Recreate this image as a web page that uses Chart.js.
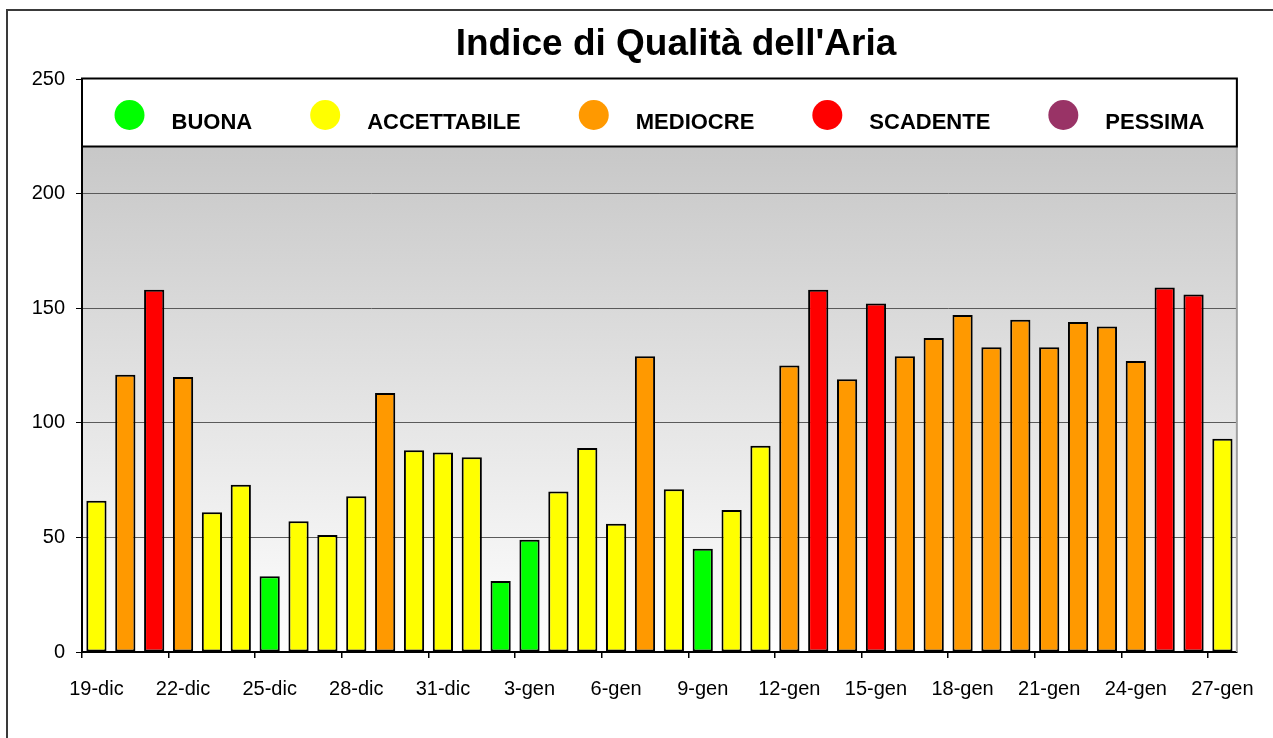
<!DOCTYPE html>
<html>
<head>
<meta charset="utf-8">
<script src="https://cdn.jsdelivr.net/npm/chart.js@4/dist/chart.umd.min.js"></script>
<style>
html, body { margin: 0; padding: 0; background: #fff; }
#wrap { width: 1273px; height: 738px; }
</style>
</head>
<body>
<div id="wrap"><canvas id="chart" width="1273" height="738"></canvas></div>
<script>
// indice di qualita' dell'aria, 19-dic .. 27-gen

const titleText = "Indice di Qualità dell'Aria"

const days = [
  "19-dic","20-dic","21-dic","22-dic","23-dic","24-dic","25-dic","26-dic","27-dic","28-dic",
  "29-dic","30-dic","31-dic","1-gen","2-gen","3-gen","4-gen","5-gen","6-gen","7-gen",
  "8-gen","9-gen","10-gen","11-gen","12-gen","13-gen","14-gen","15-gen","16-gen","17-gen",
  "18-gen","19-gen","20-gen","21-gen","22-gen","23-gen","24-gen","25-gen","26-gen","27-gen"
]

const iqa = [
  66,121,158,120,61,73,33,57,51,68,
  113,88,87,85,31,49,70,89,56,129,
  71,45,62,90,125,158,119,152,129,137,
  147,133,145,133,144,142,127,159,156,93
]

const classNames = ["BUONA","ACCETTABILE","MEDIOCRE","SCADENTE","PESSIMA"]
const classColors = ["#00FF00","#FFFF00","#FF9900","#FF0000","#993366"]
const classLimits = [50,100,150,200,Infinity]

const yTicks = [0,50,100,150,200,250]

function colorFor(v) {
  for (let i = 0; i < classLimits.length; i++) {
    if (v <= classLimits[i]) return classColors[i]
  }
}

const FONT = "'Liberation Sans', Arial, sans-serif"

// gradient background + frame, drawn before everything
const backdrop = {
  id: "backdrop",
  beforeDraw(chart) {
    const {ctx, chartArea: a} = chart
    ctx.save()
    const g = ctx.createLinearGradient(0, a.top, 0, a.bottom)
    g.addColorStop(0, "#c0c0c0")
    g.addColorStop(1, "#ffffff")
    ctx.fillStyle = g
    ctx.fillRect(a.left, a.top, a.right - a.left, a.bottom - a.top)
    ctx.restore()
  },
  afterDraw(chart) {
    const {ctx, chartArea: a} = chart
    ctx.save()

    // outer frame (only left and top are visible)
    ctx.strokeStyle = "#3a3a3a"
    ctx.lineWidth = 2
    ctx.beginPath()
    ctx.moveTo(7, chart.height + 5)
    ctx.lineTo(7, 10)
    ctx.lineTo(chart.width + 5, 10)
    ctx.stroke()

    // right edge of plot
    ctx.strokeStyle = "#a0a0a0"
    ctx.lineWidth = 2
    ctx.beginPath()
    ctx.moveTo(a.right, a.top)
    ctx.lineTo(a.right, a.bottom)
    ctx.stroke()

    // title
    ctx.fillStyle = "#000"
    ctx.font = "bold 37px " + FONT
    ctx.textAlign = "center"
    ctx.textBaseline = "alphabetic"
    ctx.fillText(titleText, 676, 55)

    // legend box inside the plot
    const top = a.top - 0.5
    const h = 68
    ctx.fillStyle = "#fff"
    ctx.fillRect(a.left, top, a.right - a.left, h)
    ctx.strokeStyle = "#000"
    ctx.lineWidth = 2
    ctx.strokeRect(a.left, top, a.right - a.left, h)

    ctx.font = "bold 22px " + FONT
    ctx.textAlign = "left"
    const r = 15, gapText = 27, gapItem = 58
    const widths = classNames.map(t => ctx.measureText(t).width)
    let total = gapItem * (classNames.length - 1)
    widths.forEach(w => total += 2 * r + gapText + w)
    let x = (a.left + a.right) / 2 - total / 2
    const cy = top + 36.5
    classNames.forEach((name, i) => {
      ctx.fillStyle = classColors[i]
      ctx.beginPath()
      ctx.arc(x + r, cy, r, 0, Math.PI * 2)
      ctx.fill()
      ctx.fillStyle = "#000"
      ctx.fillText(name, x + 2 * r + gapText, cy + 14)
      x += 2 * r + gapText + widths[i] + gapItem
    })

    ctx.restore()
  }
}

const ctx = document.getElementById("chart").getContext("2d")

new Chart(ctx, {
  type: "bar",
  data: {
    labels: days,
    datasets: [{
      label: "IQA",
      data: iqa,
      backgroundColor: iqa.map(colorFor),
      borderColor: "#000",
      borderWidth: 2,
      borderSkipped: false,
      barPercentage: 0.7,
      categoryPercentage: 1.0
    }]
  },
  options: {
    responsive: false,
    animation: false,
    layout: { padding: { left: 0, right: 35, top: 79, bottom: 0 } },
    plugins: {
      legend: { display: false },
      title: { display: false },
      tooltip: { enabled: false }
    },
    scales: {
      x: {
        offset: true,
        afterFit: s => { s.height = 86 },
        border: { color: "#000", width: 2 },
        grid: {
          offset: true,
          drawOnChartArea: false,
          tickLength: 6,
          lineWidth: 1.5,
          tickColor: c => (c.index % 3 === 0 ? "#000" : "rgba(0,0,0,0)")
        },
        ticks: {
          autoSkip: false,
          maxRotation: 0,
          minRotation: 0,
          padding: 19,
          color: "#000",
          font: { family: FONT, size: 20 },
          callback: (v, i) => (i % 3 === 0 ? days[i] : "")
        }
      },
      y: {
        min: yTicks[0],
        max: yTicks[yTicks.length - 1],
        afterFit: s => { s.width = 82 },
        afterBuildTicks: s => { s.ticks = yTicks.map(v => ({ value: v })) },
        border: { color: "#000", width: 2 },
        grid: {
          color: "#5a5a5a",
          lineWidth: 1,
          tickLength: 6,
          tickColor: "#000"
        },
        ticks: {
          padding: 11,
          color: "#000",
          font: { family: FONT, size: 20 }
        }
      }
    }
  },
  plugins: [backdrop]
})
</script>
</body>
</html>
